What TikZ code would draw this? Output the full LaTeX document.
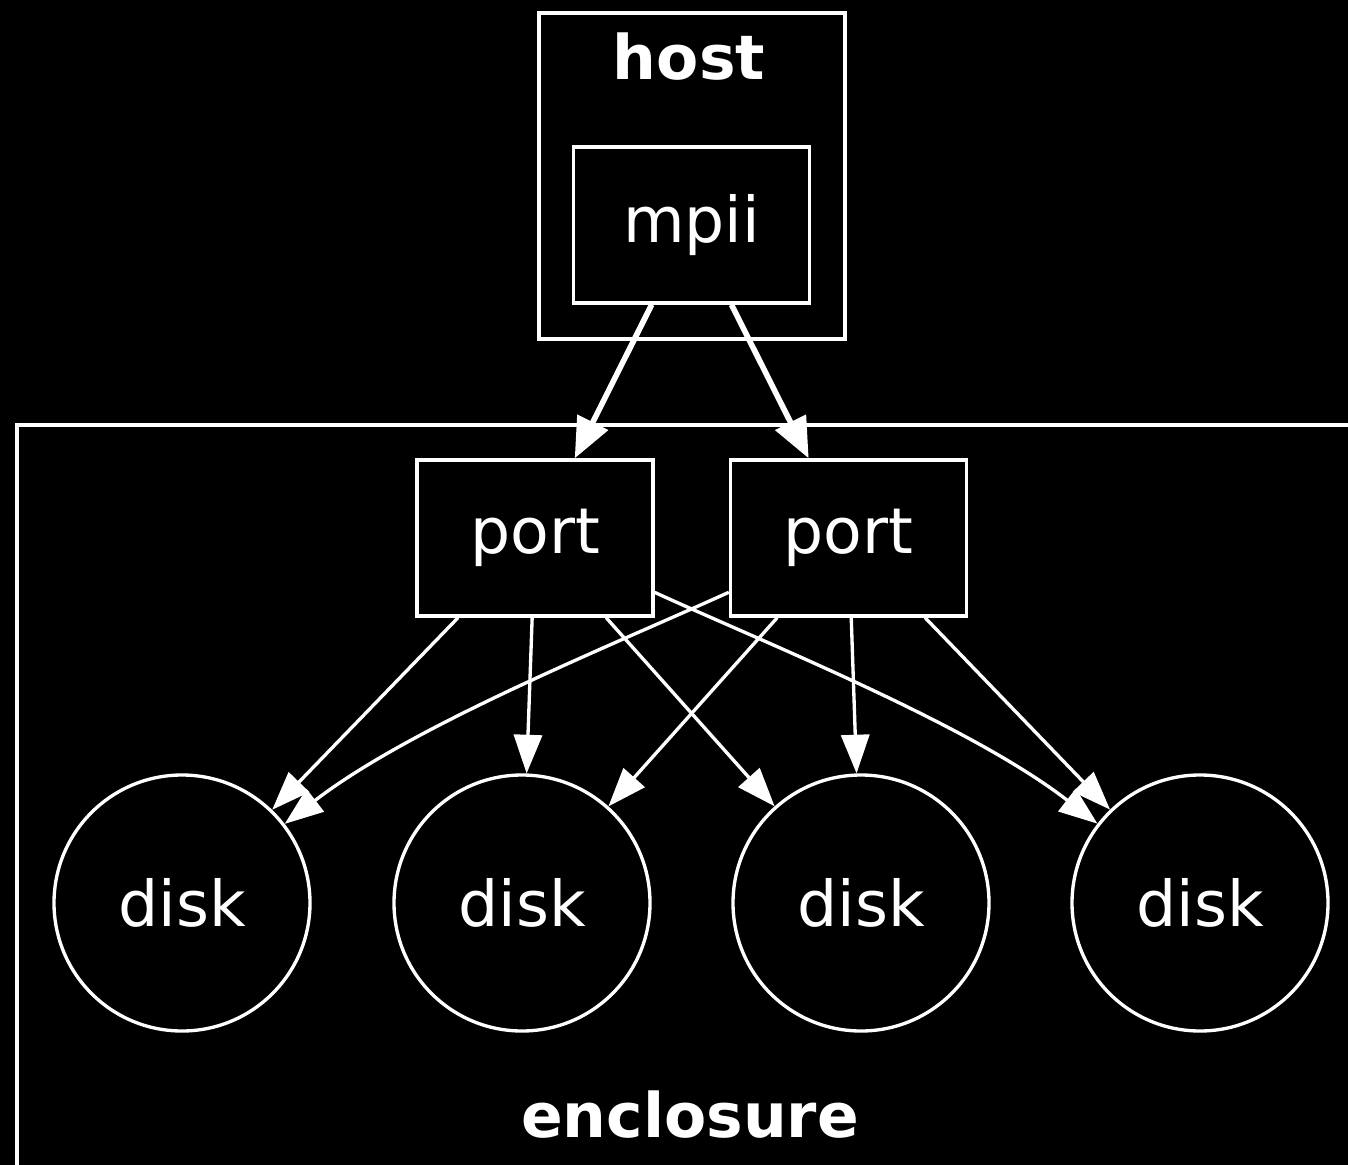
\documentclass[tikz,border=0pt]{standalone}
\usepackage{fontspec}
\setmainfont{DejaVu Sans}
\usetikzlibrary{arrows.meta}
\begin{document}
\begin{tikzpicture}[x=0.02cm,y=0.02cm,
  every node/.style={text=white,font=\fontsize{36}{43}\selectfont},
  frame/.style={draw=white,line width=1.9pt},
  boxnode/.style={draw=white,line width=1.9pt,minimum width=236*0.02cm,minimum height=156*0.02cm,inner sep=0pt},
  disknode/.style={circle,draw=white,line width=1.9pt,minimum size=256*0.02cm,inner sep=0pt},
  lbl/.style={font=\fontsize{35}{42}\selectfont\bfseries},
  thickedge/.style={draw=white,line width=3.2pt,-{Triangle[length=23pt,width=19pt]}},
  edge/.style={draw=white,line width=1.9pt,-{Triangle[length=22pt,width=16pt]}}]
\fill[black] (0,0) rectangle (1348,-1165);
\useasboundingbox (0,0) rectangle (1348,-1165);
% clusters
\draw[frame] (539,-13) rectangle (845,-339);
\node[lbl] (hostlbl) at (689,-57) {host};
\draw[frame] (17,-1200) -- (17,-425) -- (1380,-425);
\node[lbl] (enclbl) at (690,-1115) {enclosure};
% nodes
\node[boxnode] (mpii) at (691.5,-225) {mpii};
\node[boxnode] (port1) at (535,-538) {port};
\node[boxnode] (port2) at (848.5,-538) {port};
\node[disknode] (d1) at (182,-903) {disk};
\node[disknode] (d2) at (522,-903) {disk};
\node[disknode] (d3) at (861,-903) {disk};
\node[disknode] (d4) at (1200,-903) {disk};
% edges
\draw[thickedge] (mpii) -- (port1);
\draw[thickedge] (mpii) -- (port2);
\draw[edge] (port1) -- (d1);
\draw[edge] (port1) -- (d2);
\draw[edge] (port1) -- (d3);
\draw[edge] (port1) .. controls (770,-645) and (970,-725) .. (d4);
\draw[edge] (port2) .. controls (613,-645) and (413,-725) .. (d1);
\draw[edge] (port2) -- (d2);
\draw[edge] (port2) -- (d3);
\draw[edge] (port2) -- (d4);
\end{tikzpicture}
\end{document}
